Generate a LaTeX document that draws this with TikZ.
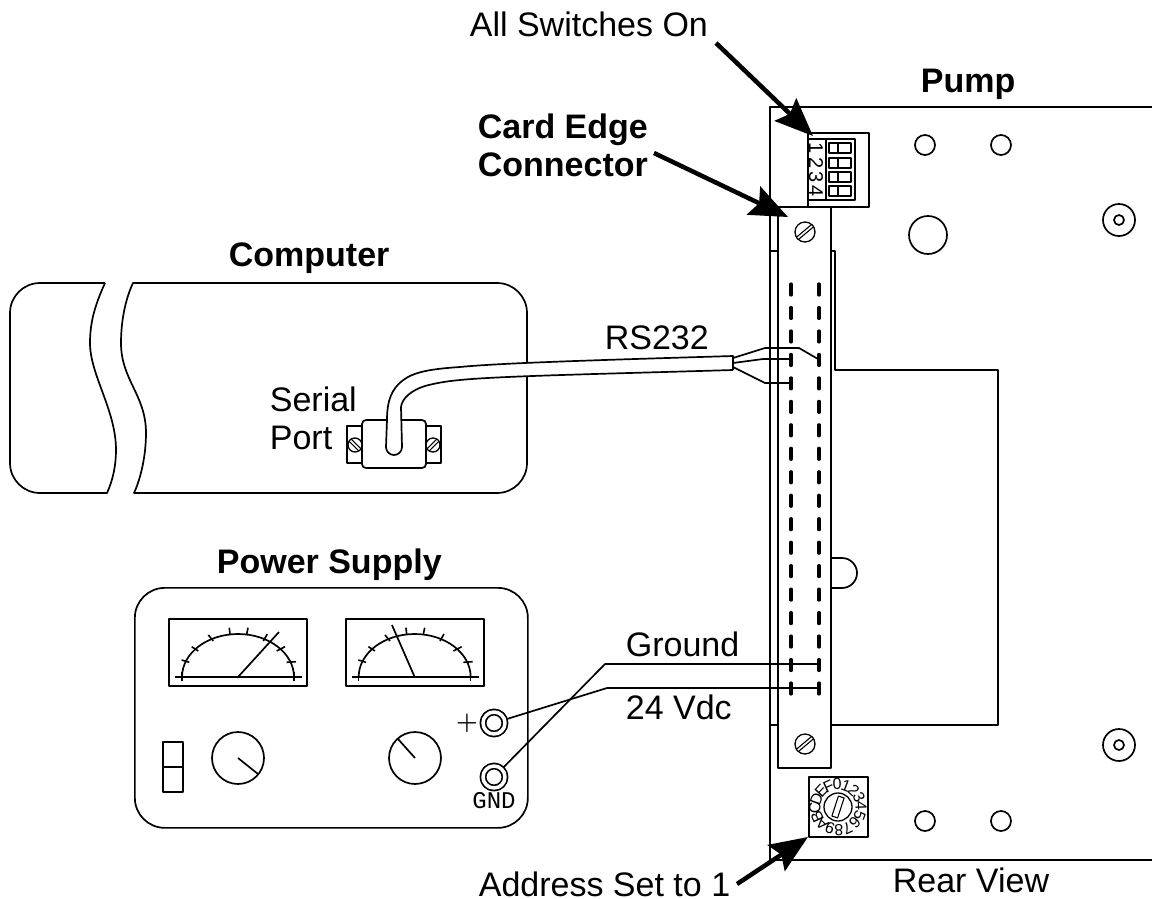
\documentclass[tikz,border=0pt]{standalone}
\usepackage{amsmath}
\usepackage{fontspec}
\setmainfont{Liberation Sans}
\setmonofont{Liberation Mono}
\usetikzlibrary{arrows.meta,calc}
\tikzset{
    pump diagram/.style = {x=1pt, y=-1pt, line width=1.7pt, line join=round,
                           >={Stealth[length=38pt, width=31pt, inset=6pt]}},
    lbl/.style      = {inner sep=0pt, anchor=base west,
                       font=\fontsize{34}{38}\selectfont},
    head/.style     = {lbl, font=\fontsize{34}{38}\selectfont\bfseries},
    callout/.style  = {->, line width=4.5pt},
    panel/.style    = {draw, fill=white, rounded corners=30pt},
    hole/.style     = {draw, circle, inner sep=0pt, minimum size=20pt},
    screw/.style    = {draw, circle, fill=white, inner sep=0pt, minimum size=20pt,
                       line width=1.3pt},
    slot/.style     = {draw, fill=white, inner sep=0pt, minimum width=20pt,
                       minimum height=3pt, line width=1.1pt},
    terminal/.style = {draw, circle, fill=white, inner sep=0pt, minimum size=22pt,
                       double, double distance=3.5pt, outer sep=2.6pt},
    knob/.style     = {draw, circle, inner sep=0pt, minimum size=52pt},
    tiny/.style     = {inner sep=0pt, font=\fontsize{16}{16}\selectfont},
    pin/.style      = {line width=3.2pt, line cap=round, shorten >=2pt, shorten <=2pt}
}
\begin{document}
\begin{tikzpicture}[pump diagram]
\useasboundingbox (0,0) rectangle (1152,898);

% pump
\draw (1152,107) -- (770,107) -- (770,860) -- (1152,860);
\draw (770,251) -- (778,251);
\draw (770,725) -- (778,725);
\draw (831,251) -- (835,251) -- (835,370) -- (998,370) -- (998,725) -- (831,725);
\draw (831,558) -- (842,558) arc[start angle=90, end angle=-90, radius=15pt] -- (831,588);
\foreach \nm/\hx/\hy in {holeA/925/145, holeB/1001/145, holeC/925/821, holeD/1001/821}
    \node[hole] (\nm) at (\hx,\hy) {};
\node[hole, minimum size=38pt] (bigHole) at (928,235) {};
\foreach \nm/\hy in {boltTop/220, boltLow/745} {
    \node[hole, minimum size=32pt] (\nm) at (1119,\hy) {};
    \node[hole, minimum size=10pt] (\nm Eye) at (\nm) {};
}

% dip switch
\draw[fill=white] (808,133) rectangle (869,207);
\draw[line width=1.6pt] (808,139) rectangle (855,200);
\draw[line width=1.6pt] (826,139) -- (826,200);
\foreach \ny/\ly [count=\i] in {143/148,158/163,172/177,186/191} {
    \draw[line width=1.6pt] (829,\ny) rectangle (851,\ny+10);
    \draw[line width=1.6pt] (838,\ny) -- (838,\ny+10);
    \node[tiny, rotate=-90, font=\fontsize{20}{20}\selectfont] (dip\i) at (816,\ly) {\i};
}

% card edge connector
\draw[fill=white] (778,207) rectangle (831,768);
\draw (770,207) -- (778,207);
\foreach \nm/\sy in {screwTop/232, screwLow/744} {
    \node[screw] (\nm) at (805,\sy) {};
    \node[slot, rotate=40] (\nm Slot) at (\nm) {};
}
\foreach \i in {0,...,17} {
    \draw[pin] (791,282+23.47*\i) -- (791,297+23.47*\i);
    \draw[pin] (819,282+23.47*\i) -- (819,297+23.47*\i);
}

% address switch
\draw[line width=2.6pt, fill=white] (809,777) rectangle (868,837);
\node[draw, circle, inner sep=0pt, minimum size=28pt, line width=1.3pt] (dial) at (838,807) {};
\node[draw, rotate=72, inner sep=0pt, minimum width=21pt, minimum height=6pt,
      line width=1.1pt] (dialSlot) at (dial) {};
\foreach \ch [count=\i from 0] in {0,1,2,3,4,5,6,7,8,9,A,B,C,D,E,F}
    \node[tiny, rotate={2-22.5*\i}] (dig\i) at ($(dial)+({92-22.5*\i}:23pt)$) {\ch};

% computer
\draw (105,283) -- (40,283) arc[start angle=90, end angle=180, radius=30pt]
    -- (10,463) arc[start angle=180, end angle=270, radius=30pt]
    -- (107,493)
    .. controls (113,480) and (116,465) .. (116,450)
    .. controls (116,410) and (90,375) .. (90,343)
    .. controls (90,322) and (95,305) .. (105,283);
\draw (134,493) .. controls (141,478) and (146,455) .. (146,433)
    .. controls (146,395) and (121,380) .. (121,343)
    .. controls (121,322) and (125,300) .. (133,283)
    -- (497,283) arc[start angle=90, end angle=0, radius=30pt]
    -- (527,463) arc[start angle=0, end angle=-90, radius=30pt] -- cycle;

% serial port
\foreach \ex in {347,426} {
    \draw (\ex,426) rectangle (\ex+15,463);
}
\draw[fill=white, rounded corners=4pt] (362,420) rectangle (426,468);
\node[screw, minimum size=14pt] (portL) at (355,445) {};
\node[slot, minimum width=14pt, rotate=-45] (portLSlot) at (portL) {};
\node[screw, minimum size=14pt] (portR) at (433,445) {};
\node[slot, minimum width=14pt, rotate=45] (portRSlot) at (portR) {};

% rs232 cable
\coordinate (cableTop) at (733,356);
\coordinate (cableLow) at (733,370);
\draw[fill=white] (cableLow) -- (cableTop)
    .. controls (600,360) and (500,363) .. (460,367)
    .. controls (430,369) and (413,372) .. (402,381)
    .. controls (392,389) and (387,400) .. (387,420)
    -- (386,447) arc[start angle=180, end angle=360, radius=8pt]
    -- (401,407)
    .. controls (402,398) and (412,390) .. (425,386)
    .. controls (440,382) and (450,381) .. (460,380)
    .. controls (500,376) and (600,374) .. (cableLow);
\draw (733,358) -- (765,348) -- (799,348) -- (818,359);
\draw (733,363) -- (763,359) -- (791,359);
\draw (733,367) -- (765,383) -- (791,383);

% power supply
\node[panel, minimum width=393pt, minimum height=240pt, anchor=north west,
      inner sep=0pt] (supply) at (134,587) {};
\foreach \mx/\nx/\ny in {0/279/632, 176.67/215.3/625} {
    \begin{scope}[shift={(\mx,0)}]
    \draw (169,619) rectangle (307,686);
    \draw (175,677) -- (302,677);
    \draw (182,677) arc[start angle=180, end angle=0, x radius=56pt, y radius=43pt];
    \draw (238,677) -- (\nx,\ny);
    \foreach \ax/\ay/\bx/\by in {182/672/182/681, 189.3/662.3/181.7/660, 198.3/651/191.7/646.7,
        213.3/641/208.3/635, 230/634.3/229.3/627.7, 246.7/634.3/248/627.7,
        263.3/641/267.3/634, 276.7/651/285/646.7, 286.7/662.3/296/661.7, 294/672/294/681}
        \draw[line width=1.6pt] (\ax,\ay) -- (\bx,\by);
    \end{scope}
}
\node[knob] (knobL) at (238,758) {};
\draw (knobL.center) -- (258,774);
\node[knob] (knobR) at (415,758) {};
\draw (knobR.center) -- (398,739);
\draw (163,742) rectangle (183,792);
\draw (163,767) -- (183,767);
\node[terminal] (plusPost) at (494,723) {};
\node[terminal] (gndPost) at (494,777) {};
\node[inner sep=0pt, font=\fontsize{30}{30}\selectfont] (plusSign) at (467,723) {$\boldsymbol{+}$};
\node[inner sep=0pt, anchor=base, font=\ttfamily\fontsize{24}{24}\selectfont]
    (gndSign) at (494,808) {GND};

% supply wires
\coordinate (vddEnd) at (819,688);
\coordinate (gndEnd) at (819,664);
\draw (plusPost) -- (607,688) -- (vddEnd);
\draw (gndPost) -- (605,664) -- (gndEnd);

% labels
\node[lbl] (allSwitches) at (469,36) {All Switches On};
\node[head] (pumpName) at (920,92) {Pump};
\node[head, anchor=north west, align=left] (cardName) at (477,113) {Card Edge\\Connector};
\node[head] (computerName) at (228,266) {Computer};
\node[lbl] (rsName) at (604,349) {RS232};
\node[lbl, anchor=north west, align=left] (portName) at (269,386) {Serial\\Port};
\node[head] (supplyName) at (216,573) {Power Supply};
\node[lbl] (groundName) at (625,656) {Ground};
\node[lbl] (vdcName) at (625,719) {24 Vdc};
\node[lbl] (addressName) at (478,896) {Address Set to 1};
\node[lbl] (viewName) at (892,892) {Rear View};

% callouts
\coordinate (dipTip) at (813,136);
\coordinate (cardTip) at (788,217);
\coordinate (addressTip) at (808,837);
\draw[callout] (716,43) -- (dipTip);
\draw[callout] (654,153) -- (cardTip);
\draw[callout] (737,884) -- (addressTip);

\end{tikzpicture}
\end{document}
